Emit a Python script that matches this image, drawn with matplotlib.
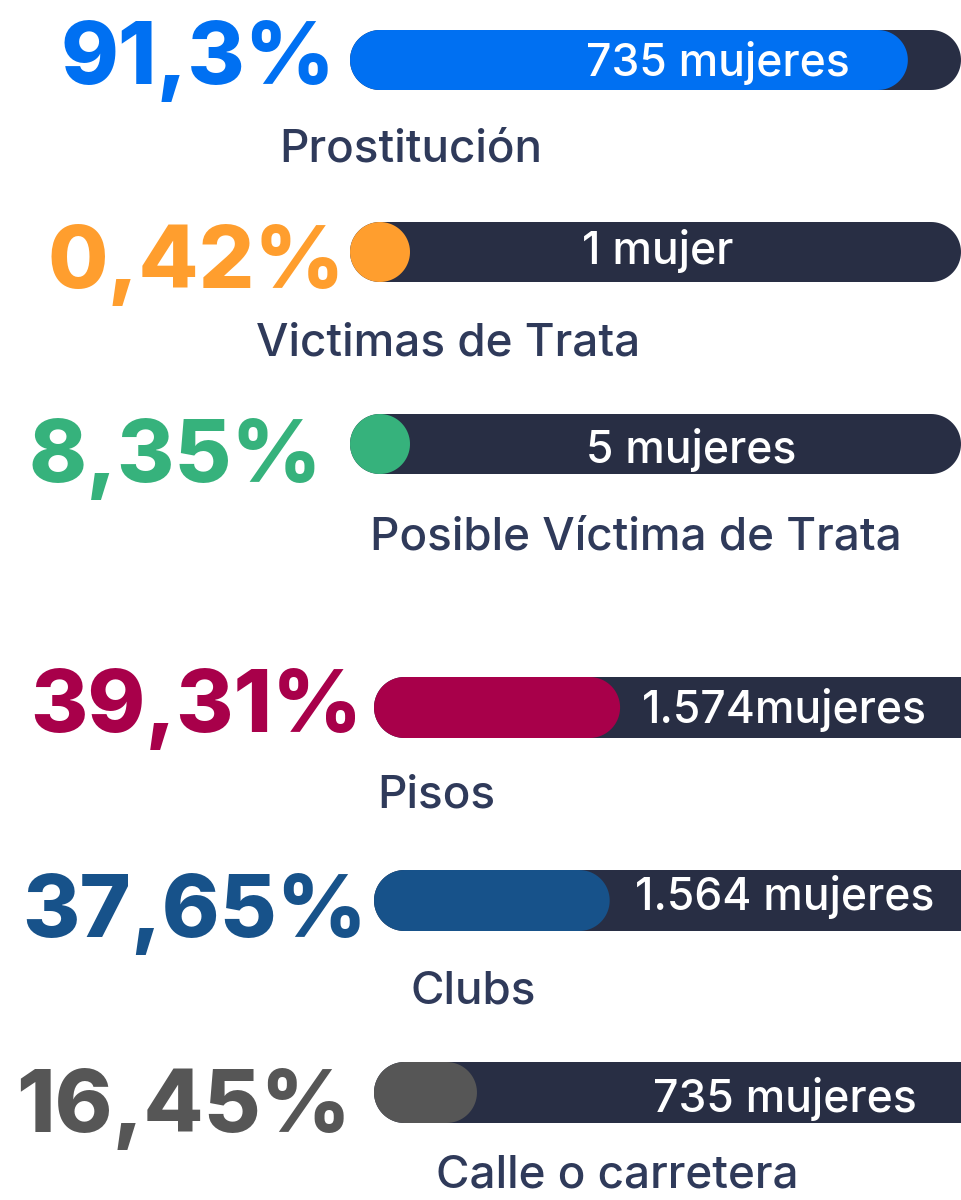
import numpy as np
import matplotlib.pyplot as plt
from matplotlib.patches import Polygon

# data
categorias = ['Prostitución', 'Victimas de Trata', 'Posible Víctima de Trata',
              'Pisos', 'Clubs', 'Calle o carretera']
porcentajes = [91.3, 0.42, 8.35, 39.31, 37.65, 16.45]
pct_labels = ['91,3%', '0,42%', '8,35%', '39,31%', '37,65%', '16,45%']
mujeres = ['735 mujeres', '1 mujer', '5 mujeres', '1.574mujeres', '1.564 mujeres', '735 mujeres']
colores = ['#0070F2', '#FF9E2E', '#36B27C', '#A8004A', '#17528A', '#565656']

# layout (pixels)
bar_x0 = [350, 350, 350, 374, 374, 374]
bar_len = [611, 611, 611, 626, 626, 626]
bar_top = [30, 222, 414, 677, 870, 1062]
bar_h = [60, 60, 60, 61, 61, 61]
pct_x = [198, 196, 175, 196, 195, 184]
pct_base = [84, 288, 482, 732, 937, 1132]
cnt_x = [718, 658, 691, 784, 785, 785]
cnt_base = [76, 264, 463, 723, 910, 1112]
lab_x = [411, 448, 636, 436, 473, 617]
lab_base = [162, 356, 550, 808, 1004, 1188]

dark = '#282E44'
txt = '#2F3A5A'

plt.rcParams['font.family'] = ['Inter', 'DejaVu Sans']


def stadium(x0, top, w, h, color):
    # pill shape with fully round ends
    r = h / 2
    yc = top + r
    t = np.linspace(-np.pi / 2, np.pi / 2, 40)
    right = np.column_stack([x0 + w - r + r * np.cos(t), yc + r * np.sin(t)])
    left = np.column_stack([x0 + r - r * np.cos(t), yc - r * np.sin(t)])
    pts = np.vstack([right, left])
    return Polygon(pts, closed=True, fc=color, ec='none')


fig = plt.figure(figsize=(9.61, 12), dpi=100)
ax = fig.add_axes([0, 0, 1, 1])
ax.set_xlim(0, 961)
ax.set_ylim(1200, 0)
ax.axis('off')

for i in range(len(categorias)):
    h = bar_h[i]
    ax.add_patch(stadium(bar_x0[i], bar_top[i], bar_len[i], h, dark))
    w = max(porcentajes[i] / 100 * bar_len[i], h)
    ax.add_patch(stadium(bar_x0[i], bar_top[i], w, h, colores[i]))
    ax.text(pct_x[i], pct_base[i], pct_labels[i], color=colores[i],
            fontsize=63, fontweight='heavy', ha='center', va='baseline')
    ax.text(cnt_x[i], cnt_base[i], mujeres[i], color='white',
            fontsize=32, fontweight='medium', ha='center', va='baseline')
    ax.text(lab_x[i], lab_base[i], categorias[i], color=txt,
            fontsize=33, fontweight='medium', ha='center', va='baseline')

fig.savefig('out.png', dpi=100)
